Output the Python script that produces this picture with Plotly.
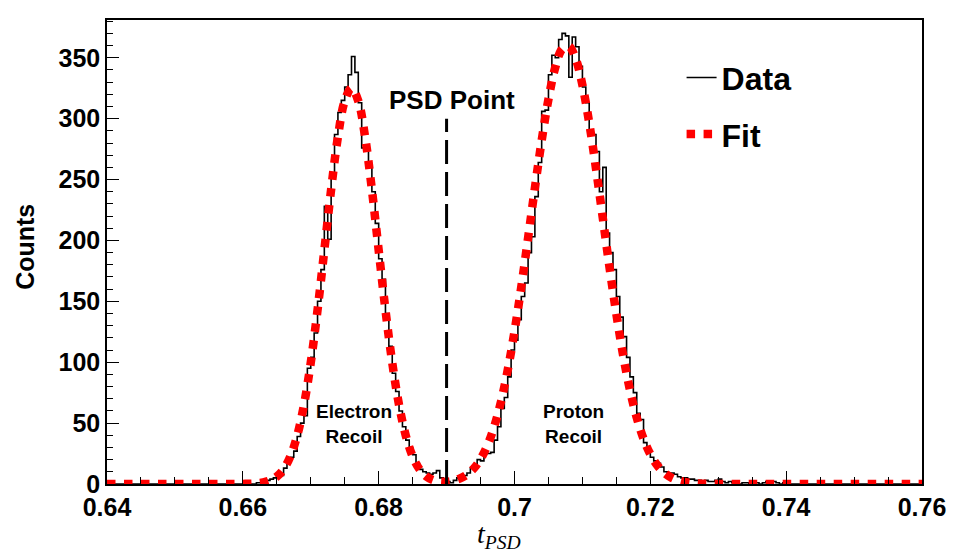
import numpy as np
import plotly.graph_objects as go

# ---------------- data ----------------
HIST_START = 0.64
BIN_WIDTH = 0.0005
COUNTS = [
    0, 0, 0, 0, 0, 0, 0, 0, 0, 0,
    0, 0, 0, 0, 0, 0, 0, 0, 0, 0,
    0, 0, 0, 0, 0, 0, 0, 0, 0, 0,
    0, 0, 0, 0, 0, 0, 0, 0, 0, 0,
    0, 0, 0, 0, 1, 1, 2, 3, 4, 5,
    6, 7, 13, 20, 22, 27, 39, 50, 56, 95,
    104, 124, 150, 176, 228, 201, 255, 287, 305, 315,
    326, 336, 351, 338, 313, 276, 276, 262, 240, 214,
    185, 168, 140, 113, 91, 76, 60, 47, 36, 30,
    24, 17, 12, 10, 9, 8, 9, 11, 5, 4,
    2, 1, 3, 5, 4, 7, 9, 13, 16, 20,
    19, 25, 25, 26, 36, 47, 62, 71, 88, 110,
    118, 135, 154, 165, 190, 203, 236, 264, 306, 307,
    336, 352, 350, 365, 370, 368, 334, 367, 359, 343,
    326, 313, 289, 287, 273, 240, 260, 206, 190, 176,
    154, 137, 121, 104, 88, 75, 58, 53, 34, 28,
    22, 19, 17, 14, 10, 9, 9, 8, 6, 5,
    5, 4, 4, 3, 3, 2, 3, 2, 2, 3,
    4, 2, 1, 2, 1, 1, 0, 1, 1, 0,
    2, 1, 0, 1, 2, 1, 2, 1, 0, 1,
    0, 0, 0, 0, 0, 0, 0, 0, 0, 0,
    0, 0, 0, 0, 0, 0, 0, 0, 0, 0,
    0, 0, 0, 0, 0, 0, 0, 0, 0, 0,
    0, 0, 0, 0, 0, 0, 0, 0, 0, 0,
]

FIT_START = 0.640
FIT_STEP = 0.001
FIT_VALUES = [
    0, 0, 0, 0, 0, 0, 0, 0, 0, 0,
    0, 0, 0, 0, 0, 0, 0, 0, 0, 0,
    0.1, 0.2, 0.5, 1.3, 2.9, 6.1, 12.1, 22.7, 39.6, 64.9,
    99.6, 142.9, 192.0, 241.8, 285.0, 314.5, 325.0, 314.5, 285.0, 241.8,
    192.0, 142.9, 99.6, 64.9, 39.6, 22.7, 12.2, 6.2, 3.2, 2.0,
    1.9, 2.7, 4.6, 7.7, 12.7, 20.4, 31.5, 46.9, 67.4, 93.5,
    125.3, 161.9, 202.0, 243.0, 282.0, 316.0, 342.0, 357.0, 359.4, 349.3,
    327.6, 296.5, 259.0, 218.4, 177.5, 139.5, 105.6, 77.2, 54.5, 37.1,
    24.4, 15.5, 9.5, 5.6, 3.2, 1.8, 0.9, 0.5, 0.2, 0.1,
    0, 0, 0, 0, 0, 0, 0, 0, 0, 0,
    0, 0, 0, 0, 0, 0, 0, 0, 0, 0,
    0, 0, 0, 0, 0, 0, 0, 0, 0, 0,
    0,
]

PSD_POINT = 0.69
PSD_LINE_TOP = 300
X_RANGE = [0.64, 0.76]
Y_RANGE = [0, 381]
SERIES_NAMES = ["Data", "Fit"]
LABELS = {
    "psd": "PSD Point",
    "electron": "Electron<br>Recoil",
    "proton": "Proton<br>Recoil",
    "ytitle": "Counts",
    "xtitle": "<i>t<sub>PSD</sub></i>",
}

# ---------------- figure ----------------
bin_centers = HIST_START + (np.arange(len(COUNTS)) + 0.5) * BIN_WIDTH
fit_x = FIT_START + np.arange(len(FIT_VALUES)) * FIT_STEP

SANS = "Liberation Sans, Arial, sans-serif"
SERIF = "Liberation Serif, Times New Roman, serif"

fig = go.Figure()
fig.add_trace(go.Scatter(
    x=bin_centers, y=COUNTS, mode="lines", line_shape="hvh",
    line=dict(color="black", width=1.6),
    name="<b>%s</b>" % SERIES_NAMES[0], legendgroup="a",
))
fig.add_trace(go.Scatter(
    x=fit_x, y=FIT_VALUES, mode="lines", line_shape="spline",
    line=dict(color="#ff0000", width=8.5, dash="dot"),
    name="<b>%s</b>" % SERIES_NAMES[1], legendgroup="b",
))

fig.add_shape(type="line", x0=PSD_POINT, x1=PSD_POINT, y0=0, y1=PSD_LINE_TOP,
              xref="x", yref="y", line=dict(color="black", width=3, dash="24px,8px"))

fig.add_annotation(x=PSD_POINT + 0.0008, y=315, xref="x", yref="y", text="<b>%s</b>" % LABELS["psd"],
                   showarrow=False, font=dict(family=SANS, size=26, color="black"))
fig.add_annotation(x=0.6764, y=49, xref="x", yref="y", text="<b>%s</b>" % LABELS["electron"],
                   showarrow=False, font=dict(family=SANS, size=19, color="black"))
fig.add_annotation(x=0.7087, y=49, xref="x", yref="y", text="<b>%s</b>" % LABELS["proton"],
                   showarrow=False, font=dict(family=SANS, size=19, color="black"))
fig.add_annotation(x=-0.1, y=0.51, xref="paper", yref="paper", text="<b>%s</b>" % LABELS["ytitle"],
                   xanchor="center", yanchor="middle",
                   textangle=-90, showarrow=False, font=dict(family=SANS, size=25, color="black"))
fig.add_annotation(x=0.481, y=-0.111, xref="paper", yref="paper", text=LABELS["xtitle"],
                   xanchor="center", yanchor="middle",
                   showarrow=False, font=dict(family=SERIF, size=28, color="black"))

axis_common = dict(
    showline=True, mirror=True, linecolor="black", linewidth=1.5,
    showgrid=False, zeroline=False, ticks="inside", tickcolor="black", tickwidth=1,
    tickfont=dict(family=SANS, size=25, color="black", weight="bold"),
)
fig.update_xaxes(range=X_RANGE, tick0=0.64, dtick=0.02, ticklen=13,
                 minor=dict(ticks="inside", ticklen=7, dtick=0.005, tick0=0.64, tickcolor="black"),
                 **axis_common)
fig.update_yaxes(range=Y_RANGE, tick0=0, dtick=50, ticklen=12,
                 minor=dict(ticks="inside", ticklen=6, dtick=10, tick0=0, tickcolor="black"),
                 **axis_common)

fig.update_layout(
    width=958, height=557,
    margin=dict(l=107, r=34, t=20, b=73),
    paper_bgcolor="white", plot_bgcolor="white",
    showlegend=True,
    legend=dict(x=0.705, y=0.935, xanchor="left", yanchor="top",
                bgcolor="rgba(0,0,0,0)", borderwidth=0,
                traceorder="grouped", tracegroupgap=12,
                font=dict(family=SANS, size=32, color="black")),
)

fig.write_html("out.html")
